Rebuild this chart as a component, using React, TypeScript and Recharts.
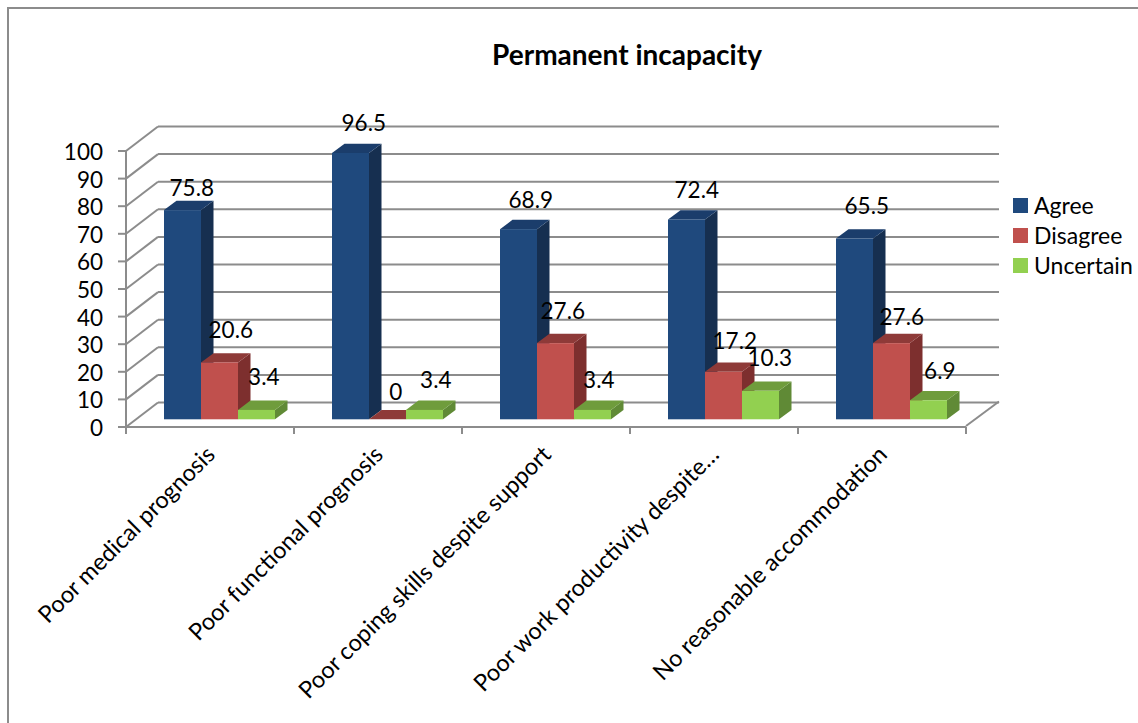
import { BarChart, Bar, XAxis, YAxis, CartesianGrid, LabelList, Legend } from 'recharts';

const categories = [
  'Poor medical prognosis',
  'Poor functional prognosis',
  'Poor coping skills despite support',
  'Poor work productivity despite…',
  'No reasonable accommodation',
];
const agree = [75.8, 96.5, 68.9, 72.4, 65.5];
const disagree = [20.6, 0, 27.6, 17.2, 27.6];
const uncertain = [3.4, 3.4, 3.4, 10.3, 6.9];
const yTicks = [0, 10, 20, 30, 40, 50, 60, 70, 80, 90, 100];

const data = categories.map((name, i) => ({
  name,
  agree: agree[i],
  disagree: disagree[i],
  uncertain: uncertain[i],
}));

const FONT = 'Lato, sans-serif';
const AXIS_GREY = '#8c8c8c';

// Depth of the floor and walls, and of each box
const WALL_DX = 32;
const WALL_DY = 24.5;
const BOX_DX = 12.5;
const BOX_DY = 9.3;
// Boxes stand in the middle of the floor rather than on its front edge
const BOX_SHIFT_X = 10;
const BOX_SHIFT_Y = -7.7;

// Data labels were dragged by hand, so each one has its own nudge [dx, dy]
const agreeNudge = [[10, -23], [14, -30], [13, -30], [11, -30], [13, -33]];
const disagreeNudge = [[12, -33], [9, -28], [8, -33], [12, -31], [11, -27]];
const uncertainNudge = [[8, -33], [12, -30], [7, -30], [10, -33], [12, -30]];

function Box3D(props: any) {
  const { x, y, width, height, fill, topFill, sideFill } = props;
  const left = x + BOX_SHIFT_X;
  const right = left + width;
  const top = y + BOX_SHIFT_Y;
  const bottom = top + height;
  return (
    <g>
      <polygon
        points={`${right},${top} ${right + BOX_DX},${top - BOX_DY} ${right + BOX_DX},${bottom - BOX_DY} ${right},${bottom}`}
        fill={sideFill}
      />
      <polygon
        points={`${left},${top} ${left + BOX_DX},${top - BOX_DY} ${right + BOX_DX},${top - BOX_DY} ${right},${top}`}
        fill={topFill}
      />
      <rect x={left} y={top} width={width} height={height} fill={fill} />
    </g>
  );
}

// One horizontal grid line becomes a wall line plus the diagonal running back to it
function WallLine(props: any) {
  const { x1, y1, x2, y2 } = props;
  return (
    <g stroke={AXIS_GREY} strokeWidth={2} fill="none">
      <line x1={x1} y1={y1} x2={x1 + WALL_DX} y2={y1 - WALL_DY} />
      <line x1={x1 + WALL_DX} y1={y1 - WALL_DY} x2={x2 + WALL_DX + 1} y2={y2 - WALL_DY} />
    </g>
  );
}

function nudgedLabel(nudge: number[][]) {
  return (props: any) => {
    const { x, y, width, value, index } = props;
    const [dx, dy] = nudge[index];
    return (
      <text
        x={x + 9.3 + width / 2 + dx}
        y={y + BOX_SHIFT_Y + dy}
        textAnchor="middle"
        dominantBaseline="central"
        fontFamily={FONT}
        fontSize={22.5}
        fill="#000"
      >
        {value}
      </text>
    );
  };
}

function CategoryTick(props: any) {
  const { x, y, payload, index } = props;
  const half = 84;
  return (
    <g>
      <line x1={x - half} y1={y - 8} x2={x - half} y2={y - 1} stroke={AXIS_GREY} strokeWidth={2} />
      {index === categories.length - 1 && (
        <line x1={x + half} y1={y - 8} x2={x + half} y2={y - 1} stroke={AXIS_GREY} strokeWidth={2} />
      )}
      <text
        transform={`translate(${x + 6.5},${y + 21}) rotate(-45)`}
        textAnchor="end"
        fontFamily={FONT}
        fontSize={23.5}
        fill="#000"
      >
        {payload.value}
      </text>
    </g>
  );
}

function LegendList({ payload }: any) {
  return (
    <div style={{ fontFamily: FONT, fontSize: 23, color: '#000' }}>
      {(payload ?? []).map((item: any) => (
        <div key={item.value} style={{ display: 'flex', alignItems: 'center', height: 30 }}>
          <span style={{ width: 15, height: 15, background: item.color, marginRight: 6 }} />
          {item.value}
        </div>
      ))}
    </div>
  );
}

function FloorEdge() {
  return <line x1={966} y1={426} x2={999} y2={401.5} stroke={AXIS_GREY} strokeWidth={2} />;
}

export default function App() {
  return (
    <div
      style={{
        position: 'absolute',
        left: 0,
        top: 0,
        width: 1138,
        height: 723,
        overflow: 'hidden',
        background: '#fff',
      }}
    >
      <div
        style={{
          position: 'absolute',
          left: 7,
          top: 7,
          width: 1180,
          height: 800,
          border: '2px solid #8c8c8c',
        }}
      />
      <BarChart
        width={1138}
        height={723}
        data={data}
        margin={{ top: 151, right: 47, bottom: 0, left: 66 }}
        barCategoryGap={28}
        barGap={0}
        style={{ position: 'absolute', left: 0, top: 0 }}
      >
        <text x={627} y={65} textAnchor="middle" fontFamily={FONT} fontSize={28} fontWeight={700} fill="#000">
          Permanent incapacity
        </text>
        <CartesianGrid vertical={false} horizontal={(p: any) => <WallLine key={p.key ?? p.index} {...p} />} />
        <XAxis
          dataKey="name"
          height={296}
          interval={0}
          axisLine={{ stroke: AXIS_GREY, strokeWidth: 2 }}
          tickLine={false}
          tick={<CategoryTick />}
        />
        <YAxis
          width={60}
          domain={[0, 100]}
          ticks={yTicks}
          interval={0}
          axisLine={{ stroke: AXIS_GREY, strokeWidth: 2 }}
          tickLine={{ stroke: AXIS_GREY, strokeWidth: 2 }}
          tickSize={8}
          tickMargin={15}
          tick={{ fontFamily: FONT, fontSize: 22.5, fill: '#000', dy: 1 }}
        />
        <Legend
          layout="vertical"
          align="right"
          verticalAlign="top"
          wrapperStyle={{ left: 1013, top: 190, width: 125 }}
          content={<LegendList />}
        />
        <Bar
          dataKey="agree"
          name="Agree"
          fill="#1f497d"
          isAnimationActive={false}
          shape={(p: any) => <Box3D {...p} topFill="#1b3d6b" sideFill="#162f50" />}
        >
          <LabelList dataKey="agree" content={nudgedLabel(agreeNudge)} />
        </Bar>
        <Bar
          dataKey="disagree"
          name="Disagree"
          fill="#c0504d"
          isAnimationActive={false}
          shape={(p: any) => <Box3D {...p} topFill="#8e3a38" sideFill="#7d2f2e" />}
        >
          <LabelList dataKey="disagree" content={nudgedLabel(disagreeNudge)} />
        </Bar>
        <Bar
          dataKey="uncertain"
          name="Uncertain"
          fill="#92d050"
          isAnimationActive={false}
          shape={(p: any) => <Box3D {...p} topFill="#6f9c3c" sideFill="#608a36" />}
        >
          <LabelList dataKey="uncertain" content={nudgedLabel(uncertainNudge)} />
        </Bar>
        <FloorEdge />
      </BarChart>
    </div>
  );
}
